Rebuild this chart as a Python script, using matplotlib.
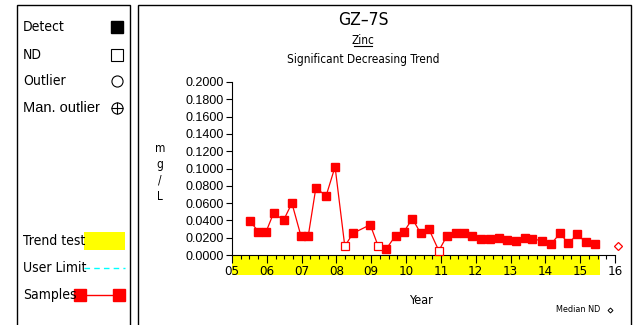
import matplotlib.pyplot as plt
from matplotlib.patches import Rectangle
from matplotlib.lines import Line2D
import matplotlib.transforms as mtransforms

# sample dates (decimal year) and zinc results, mg/L
sample_year = [2005.52, 2005.76, 2005.98, 2006.20, 2006.48, 2006.72, 2006.98, 2007.19,
               2007.41, 2007.70, 2007.96, 2008.24, 2008.47, 2008.97, 2009.20, 2009.43,
               2009.70, 2009.94, 2010.18, 2010.42, 2010.66, 2010.94, 2011.18, 2011.42,
               2011.66, 2011.89, 2012.15, 2012.40, 2012.66, 2012.90, 2013.16, 2013.41,
               2013.63, 2013.91, 2014.17, 2014.42, 2014.66, 2014.92, 2015.16, 2015.43]
zinc = [0.039, 0.027, 0.027, 0.049, 0.040, 0.060, 0.022, 0.022,
        0.078, 0.068, 0.102, 0.010, 0.025, 0.035, 0.010, 0.007,
        0.0225, 0.027, 0.042, 0.025, 0.0295, 0.005, 0.0225, 0.026,
        0.026, 0.0225, 0.018, 0.018, 0.020, 0.0175, 0.016, 0.020,
        0.019, 0.016, 0.013, 0.025, 0.0135, 0.024, 0.0145, 0.0125]
non_detect = [11, 14, 21]
median_nd_year = 2016.08
median_nd = 0.010
trend_start, trend_end = 2005.0, 2015.56
year_ticks = list(range(2005, 2017))
year_labels = ['05', '06', '07', '08', '09', '10', '11', '12', '13', '14', '15', '16']

RED = '#ff0000'
NARROW = dict(family='DejaVu Sans', stretch='condensed')

fig = plt.figure(figsize=(6.39, 3.25), dpi=100)
W, H = 639, 325


def fx(px):
    return px / W


def fy(py):
    return 1 - py / H


# panel frames
fig.patches.append(Rectangle((fx(17), fy(330)), fx(113), fy(5) - fy(330), fill=False,
                             ec='black', lw=1.0, transform=fig.transFigure, figure=fig))
fig.patches.append(Rectangle((fx(138), fy(330)), fx(493), fy(5) - fy(330), fill=False,
                             ec='black', lw=1.0, transform=fig.transFigure, figure=fig))

ax = fig.add_axes([fx(232), fy(255), fx(615) - fx(232), fy(82) - fy(255)])

# trend test band below the axis
trans = mtransforms.blended_transform_factory(ax.transData, ax.transAxes)
ax.add_patch(Rectangle((trend_start, -0.115), trend_end - trend_start, 0.115,
                       fc='#ffff00', ec='none', transform=trans, clip_on=False, zorder=0))

ax.plot(sample_year, zinc, color=RED, lw=0.9, zorder=2, clip_on=False)
det_x = [x for i, x in enumerate(sample_year) if i not in non_detect]
det_y = [y for i, y in enumerate(zinc) if i not in non_detect]
nd_x = [sample_year[i] for i in non_detect]
nd_y = [zinc[i] for i in non_detect]
ax.plot(det_x, det_y, ls='none', marker='s', ms=6.3, mfc=RED, mec=RED, zorder=3, clip_on=False)
ax.plot(nd_x, nd_y, ls='none', marker='s', ms=5.3, mfc='white', mec=RED, mew=0.9,
        zorder=3, clip_on=False)
ax.plot([median_nd_year], [median_nd], ls='none', marker='D', ms=4.5, mfc='white',
        mec=RED, mew=0.9, clip_on=False)

ax.set_xlim(2005, 2016)
ax.set_ylim(0, 0.2)
ax.set_yticks([i * 0.02 for i in range(11)])
ax.set_yticklabels(['%.4f' % (i * 0.02) for i in range(11)], family='Liberation Sans',
                   fontsize=9)
ax.set_xticks(year_ticks)
ax.set_xticklabels(year_labels, fontsize=9.5, **NARROW)
ax.set_xticks([y + q / 4 for y in range(2005, 2016) for q in (1, 2, 3)], minor=True)
ax.tick_params(axis='x', which='major', direction='out', length=6, pad=1, width=0.8)
ax.tick_params(axis='x', which='minor', direction='out', length=3, width=0.8)
ax.tick_params(axis='y', direction='out', length=4, pad=2, width=0.8)
for s in ('top', 'right'):
    ax.spines[s].set_visible(False)
for s in ('left', 'bottom'):
    ax.spines[s].set_linewidth(0.8)

# titles
fig.text(fx(363), fy(20), 'GZ\u20137S', ha='center', va='center', fontsize=12.5, **NARROW)
fig.text(fx(363), fy(40), 'Zinc', ha='center', va='center', fontsize=8.5, **NARROW)
fig.add_artist(Line2D([fx(354), fx(372)], [fy(46), fy(46)], color='black', lw=0.8))
fig.text(fx(363), fy(59), 'Significant Decreasing Trend', ha='center', va='center',
         fontsize=8.5, **NARROW)
fig.text(fx(160), fy(172), 'm\ng\n/\nL', ha='center', va='center',
         fontsize=8.5, linespacing=1.3, **NARROW)
fig.text(fx(421), fy(300), 'Year', ha='center', va='center', fontsize=9, **NARROW)
fig.text(fx(556), fy(310), 'Median ND', ha='left', va='center', fontsize=6.5, **NARROW)
fig.add_artist(Line2D([fx(610)], [fy(310)], ls='none', marker='D', ms=2.5, mfc='white',
                      mec='black', mew=0.7))

# key panel
KEY = 10
fig.text(fx(23), fy(27), 'Detect', va='center', fontsize=KEY, **NARROW)
fig.add_artist(Line2D([fx(117)], [fy(27)], ls='none', marker='s', ms=8.5, mfc='black', mec='black'))
fig.text(fx(23), fy(55), 'ND', va='center', fontsize=KEY, **NARROW)
fig.add_artist(Line2D([fx(117)], [fy(55)], ls='none', marker='s', ms=8, mfc='white',
                      mec='black', mew=0.8))
fig.text(fx(23), fy(81), 'Outlier', va='center', fontsize=KEY, **NARROW)
fig.add_artist(Line2D([fx(117)], [fy(81)], ls='none', marker='o', ms=8, mfc='white',
                      mec='black', mew=0.8))
fig.text(fx(23), fy(108), 'Man. outlier', va='center', family='Liberation Sans',
         fontsize=10.5)
fig.add_artist(Line2D([fx(117)], [fy(108)], ls='none', marker='o', ms=8, mfc='white',
                      mec='black', mew=0.8))
fig.add_artist(Line2D([fx(117)], [fy(108)], ls='none', marker='+', ms=8, mec='black', mew=0.8))

fig.text(fx(23), fy(241), 'Trend test', va='center', fontsize=KEY, **NARROW)
fig.patches.append(Rectangle((fx(84), fy(250)), fx(41), fy(232) - fy(250), fc='#ffff00',
                             ec='none', transform=fig.transFigure, figure=fig))
fig.text(fx(23), fy(268), 'User Limit', va='center', fontsize=KEY, **NARROW)
fig.add_artist(Line2D([fx(84), fx(125)], [fy(268), fy(268)], color='#00ffff', lw=1,
                      ls=(0, (4, 3))))
fig.text(fx(23), fy(295), 'Samples', va='center', fontsize=KEY, **NARROW)
fig.add_artist(Line2D([fx(80), fx(119)], [fy(295), fy(295)], color=RED, lw=1,
                      marker='s', ms=9, mfc=RED, mec=RED))

fig.savefig('out.png', dpi=100)
